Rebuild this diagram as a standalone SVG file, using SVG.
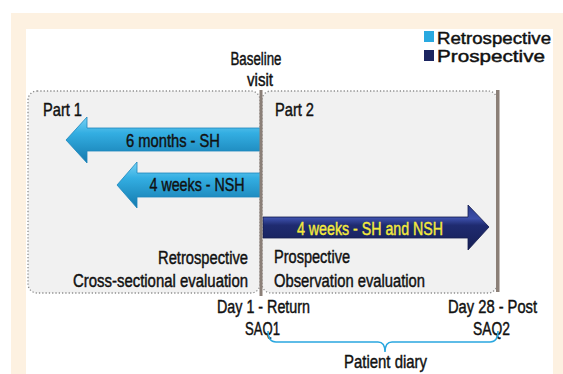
<svg xmlns="http://www.w3.org/2000/svg" width="563" height="374" viewBox="0 0 563 374">
<defs>
<linearGradient id="gBlue" x1="0" y1="0" x2="0" y2="1">
<stop offset="0" stop-color="#7AD3F5"/>
<stop offset="0.35" stop-color="#33AEE2"/>
<stop offset="1" stop-color="#1479AD"/>
</linearGradient>
<linearGradient id="gNavy" x1="0" y1="0" x2="0" y2="1">
<stop offset="0" stop-color="#2A3A8C"/>
<stop offset="0.3" stop-color="#3B4EA8"/>
<stop offset="0.45" stop-color="#1F2B70"/>
<stop offset="1" stop-color="#161F55"/>
</linearGradient>
<style>
text{font-family:"Liberation Sans",Arial,sans-serif;font-size:19px;fill:#111;stroke:#111;stroke-width:0.45;}
.sm{font-size:18px;}
.leg{font-size:17px;}
.yel{fill:#F4EA3C;stroke:#F4EA3C;}
.box{fill:#F1F1F1;stroke:#8E8E8E;stroke-width:1.3;stroke-dasharray:1.3 2;}
.bar{fill:#8B7F77;}
.blue{fill:url(#gBlue);stroke:#1C86BC;stroke-width:0.8;}
.navy{fill:url(#gNavy);stroke:#141C4E;stroke-width:0.8;}
.brace{fill:none;stroke:#2AA7DF;stroke-width:1.5;}
</style>
</defs>
<rect x="0" y="0" width="563" height="374" fill="#FFFFFF"/>
<rect x="11" y="13" width="552" height="361" fill="#FDF1E1"/>
<rect x="26" y="29" width="527" height="345" fill="#FFFFFF"/>

<g id="legend">
<rect x="424" y="31" width="10" height="11" fill="#29A9E0"/>
<rect x="424" y="50" width="10" height="11" fill="#1B2560"/>
<text class="leg" x="437" y="44" textLength="114" lengthAdjust="spacingAndGlyphs">Retrospective</text>
<text class="leg" x="437" y="62" textLength="108" lengthAdjust="spacingAndGlyphs">Prospective</text>
</g>

<g id="baseline">
<text class="sm" x="256" y="65" text-anchor="middle" textLength="51" lengthAdjust="spacingAndGlyphs">Baseline</text>
<text class="sm" x="260" y="86" text-anchor="middle" textLength="26" lengthAdjust="spacingAndGlyphs">visit</text>
</g>

<g id="part1">
<rect class="box" x="28" y="91" width="232" height="202" rx="9"/>
<text x="43" y="116" textLength="39" lengthAdjust="spacingAndGlyphs">Part 1</text>
<text class="sm" x="248" y="264" text-anchor="end" textLength="90" lengthAdjust="spacingAndGlyphs">Retrospective</text>
<text class="sm" x="248" y="287" text-anchor="end" textLength="175" lengthAdjust="spacingAndGlyphs">Cross-sectional evaluation</text>
</g>

<g id="part2">
<rect class="box" x="262" y="91" width="235" height="202" rx="9"/>
<text x="275" y="116" textLength="39" lengthAdjust="spacingAndGlyphs">Part 2</text>
<text class="sm" x="274" y="263" textLength="76" lengthAdjust="spacingAndGlyphs">Prospective</text>
<text class="sm" x="274" y="287" textLength="151" lengthAdjust="spacingAndGlyphs">Observation evaluation</text>
</g>

<g id="arrow-6months">
<path class="blue" d="M261,128 L87,128 L87,117 L66,140 L87,163 L87,151 L261,151 Z"/>
<text x="173" y="147" text-anchor="middle" textLength="94" lengthAdjust="spacingAndGlyphs">6 months - SH</text>
</g>

<g id="arrow-4weeks-nsh">
<path class="blue" d="M261,173 L137,173 L137,162 L117,185 L137,208 L137,197 L261,197 Z"/>
<text x="197" y="191" text-anchor="middle" textLength="95" lengthAdjust="spacingAndGlyphs">4 weeks - NSH</text>
</g>

<g id="arrow-prospective">
<path class="navy" d="M263,217 L468,217 L468,205 L489,227 L468,250 L468,238 L263,238 Z"/>
<text class="yel" x="370" y="235" text-anchor="middle" textLength="146" lengthAdjust="spacingAndGlyphs">4 weeks - SH and NSH</text>
</g>

<g id="bars">
<rect class="bar" x="259.5" y="90" width="3" height="206"/>
<rect class="bar" x="496" y="90" width="3.5" height="202"/>
</g>

<g id="day1">
<text class="sm" x="263.5" y="313" text-anchor="middle" textLength="93" lengthAdjust="spacingAndGlyphs">Day 1 - Return</text>
<text class="sm" x="262.5" y="335" text-anchor="middle" textLength="35" lengthAdjust="spacingAndGlyphs">SAQ1</text>
</g>

<g id="day28">
<text class="sm" x="492.5" y="313" text-anchor="middle" textLength="89" lengthAdjust="spacingAndGlyphs">Day 28 - Post</text>
<text class="sm" x="491.5" y="335" text-anchor="middle" textLength="37" lengthAdjust="spacingAndGlyphs">SAQ2</text>
</g>

<g id="connectors">
<path class="brace" d="M268,331 Q268,342 276,342 H378 Q385,342 385,352 Q385,342 392,342 H490 Q498,342 498,331"/>
</g>

<g id="diary">
<text x="385.5" y="368" text-anchor="middle" textLength="83" lengthAdjust="spacingAndGlyphs">Patient diary</text>
</g>
</svg>
